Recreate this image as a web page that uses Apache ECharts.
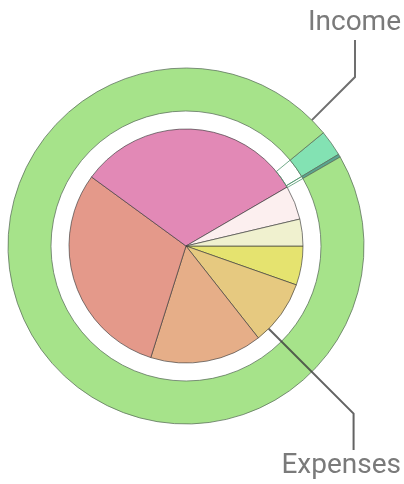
<!DOCTYPE html>
<html>
<head>
<meta charset="utf-8">
<script src="https://cdn.jsdelivr.net/npm/echarts@6/dist/echarts.min.js"></script>
<style>
html,body{margin:0;padding:0;background:#fff;}
#chart{width:404px;height:484px;}
</style>
</head>
<body>
<div id="chart"></div>
<script>
// Data (percent shares)
const expenseCategories = ['Expense 1','Expense 2','Expense 3','Expense 4','Expense 5','Expense 6','Expense 7'];
const expenseValues = [5.4, 9.0, 15.5, 30.2, 31.6, 4.7, 3.7];
const expenseColors = ['#e5e36f','#e6c980','#e6ae88','#e4998a','#e289b6','#fcefef','#f0f1cf'];

const incomeCategories = ['Income 1','Income 2','Income 3'];
const incomeValues = [2.36, 0.28, 97.36];
const incomeColors = ['#83e2b3','#5aa590','#a6e38a'];

const seriesLabels = ['Income', 'Expenses'];

const cx = 186, cy = 246;
const rPie = 117, rRingIn = 135, rRingOut = 178;

const chart = echarts.init(document.getElementById('chart'), null, {renderer:'canvas'});

const deg = Math.PI/180;
function pt(r, a){ return [cx + r*Math.cos(a*deg), cy - r*Math.sin(a*deg)]; }
const incStart = pt(rRingOut, 45);
const incElbow = pt(rRingOut + 61, 45);
const expStart = pt(rPie, -45);
const expElbow = pt(rPie + 120, -45);

chart.setOption({
  backgroundColor:'#ffffff',
  animation:false,
  series:[
    {
      type:'pie', name:'Expenses',
      center:[cx, cy], radius:[0, rPie],
      startAngle:0, clockwise:true,
      label:{show:false}, labelLine:{show:false},
      emphasis:{disabled:true},
      itemStyle:{borderColor:'rgba(60,60,60,0.65)', borderWidth:1},
      data: expenseValues.map((v,i)=>({name:expenseCategories[i], value:v, itemStyle:{color:expenseColors[i]}}))
    },
    {
      type:'pie', name:'IncomeGap',
      center:[cx, cy], radius:[rPie, rRingIn],
      startAngle:39.5, clockwise:true,
      label:{show:false}, labelLine:{show:false},
      emphasis:{disabled:true}, silent:true,
      data: incomeValues.map((v,i)=>({name:incomeCategories[i], value:v,
        itemStyle:{color:'rgba(255,255,255,0)', borderColor: i<2 ? 'rgba(80,150,110,0.8)' : 'rgba(0,0,0,0)', borderWidth: i<2 ? 1 : 0}}))
    },
    {
      type:'pie', name:'Income',
      center:[cx, cy], radius:[rRingIn, rRingOut],
      startAngle:39.5, clockwise:true,
      label:{show:false}, labelLine:{show:false},
      emphasis:{disabled:true},
      itemStyle:{borderColor:'rgba(90,110,90,0.75)', borderWidth:1},
      data: incomeValues.map((v,i)=>({name:incomeCategories[i], value:v, itemStyle:{color:incomeColors[i]}}))
    }
  ],
  graphic:[
    {type:'polyline', z:100, shape:{points:[incStart, incElbow, [incElbow[0], 40]]},
     style:{stroke:'#6f6f6f', lineWidth:2, fill:null}},
    {type:'polyline', z:100, shape:{points:[expStart, expElbow, [expElbow[0], 450]]},
     style:{stroke:'rgba(60,60,60,0.8)', lineWidth:2, fill:null}},
    {type:'text', z:100, style:{text:seriesLabels[0], x:401, y:23, align:'right', verticalAlign:'middle',
      font:'28px Roboto', fill:'#7a7a7a'}},
    {type:'text', z:100, style:{text:seriesLabels[1], x:401, y:466, align:'right', verticalAlign:'middle',
      font:'28px Roboto', fill:'#7a7a7a'}}
  ]
});
</script>
</body>
</html>
